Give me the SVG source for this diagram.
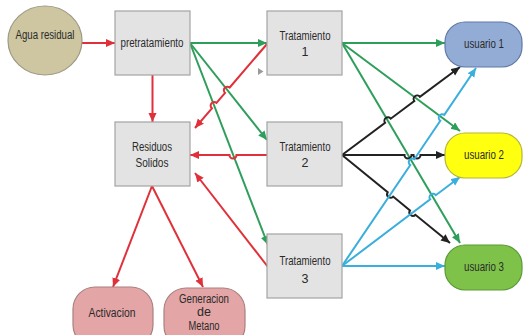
<svg xmlns="http://www.w3.org/2000/svg" width="525" height="335" viewBox="0 0 525 335">
<defs>
<style>
text{font-family:"Liberation Sans",Arial,sans-serif;font-size:12.5px;fill:#2a2a2a;text-anchor:middle}
.box{fill:#e3e3e3;stroke:#a3a3a3;stroke-width:1.2}
.ln{fill:none;stroke-width:2}
.red{stroke:#e0303a}
.grn{stroke:#2e9e5b}
.blk{stroke:#222}
.blu{stroke:#3aaedc}
</style>
<marker id="aR" markerUnits="userSpaceOnUse" markerWidth="10" markerHeight="10" refX="9" refY="4" orient="auto"><path d="M0,0 L9,4 L0,8 Z" fill="#e0303a"/></marker>
<marker id="aG" markerUnits="userSpaceOnUse" markerWidth="10" markerHeight="10" refX="9" refY="4" orient="auto"><path d="M0,0 L9,4 L0,8 Z" fill="#2e9e5b"/></marker>
<marker id="aK" markerUnits="userSpaceOnUse" markerWidth="10" markerHeight="10" refX="9" refY="4" orient="auto"><path d="M0,0 L9,4 L0,8 Z" fill="#222"/></marker>
<marker id="aB" markerUnits="userSpaceOnUse" markerWidth="10" markerHeight="10" refX="9" refY="4" orient="auto"><path d="M0,0 L9,4 L0,8 Z" fill="#3aaedc"/></marker>
</defs>
<rect width="525" height="335" fill="#fff"/>

<g id="connectors">
<path class="ln red" d="M82,43 L115,43" marker-end="url(#aR)"/>
<path class="ln red" d="M152.5,75 L152.5,122" marker-end="url(#aR)"/>
<path class="ln grn" d="M190,43 L267,43" marker-end="url(#aG)"/>
<path class="ln grn" d="M190,43 L267,140" marker-end="url(#aG)"/>
<path class="ln grn" d="M190,43 L268,245" marker-end="url(#aG)"/>
<path class="ln red" d="M267,44 L229.7,87.5 A3.5,3.5 0 0 0 225.1,92.9 L216.5,102.9 A3.5,3.5 0 0 0 211.9,108.3 L195,128" marker-end="url(#aR)"/>
<path class="ln red" d="M267,155 L236.5,155 A3.5,3.5 0 0 1 229.5,155 L190,155" marker-end="url(#aR)"/>
<path class="ln red" d="M268,267 L195,173" marker-end="url(#aR)"/>
<path class="ln red" d="M152,186 L113,287" marker-end="url(#aR)"/>
<path class="ln red" d="M152,186 L203,287" marker-end="url(#aR)"/>

<path class="ln grn" d="M342,43 L445,43" marker-end="url(#aG)"/>
<path class="ln grn" d="M342,43 L460,131" marker-end="url(#aG)"/>
<path class="ln grn" d="M342,43 L460,243" marker-end="url(#aG)"/>

<path class="ln blk" d="M342,155 L385.1,122.9 A3.5,3.5 0 0 1 390.7,118.7 L414.3,101.1 A3.5,3.5 0 0 1 419.9,96.9 L460,67" marker-end="url(#aK)"/>
<path class="ln blk" d="M342,155 L404.5,155 A3.5,3.5 0 0 0 411.5,155 L413.5,155 A3.5,3.5 0 0 0 420.5,155 L445,155" marker-end="url(#aK)"/>
<path class="ln blk" d="M342,155 L387.7,192.2 A3.5,3.5 0 0 0 393.1,196.6 L410,210.4 A3.5,3.5 0 0 0 415.4,214.8 L450,243" marker-end="url(#aK)"/>

<path class="ln blu" d="M342,266 L410.3,165 A3.5,3.5 0 0 1 414.3,159.2 L440.3,120.7 A3.5,3.5 0 0 1 444.3,114.9 L476,68" marker-end="url(#aB)"/>
<path class="ln blu" d="M342,266 L430.2,199.4 A3.5,3.5 0 0 1 435.8,195.2 L460,177" marker-end="url(#aB)"/>
<path class="ln blu" d="M342,266 L445,266" marker-end="url(#aB)"/>
</g>

<g id="agua">
<ellipse cx="45" cy="40.5" rx="37" ry="34.5" fill="#cdc6a0" stroke="#9e9a86" stroke-width="1.2"/>
<text x="45" y="39" textLength="59" lengthAdjust="spacingAndGlyphs">Agua residual</text>
</g>
<g id="pretratamiento">
<rect class="box" x="115" y="11" width="75" height="64"/>
<text x="152" y="47" textLength="63" lengthAdjust="spacingAndGlyphs">pretratamiento</text>
</g>
<g id="tratamiento1">
<rect class="box" x="267" y="11" width="75" height="64"/>
<text x="305" y="40" textLength="51" lengthAdjust="spacingAndGlyphs">Tratamiento</text>
<text x="305" y="56">1</text>
</g>
<polygon points="258,68 263.5,71.5 258,75" fill="#9a9a9a"/>
<g id="residuos">
<rect class="box" x="115" y="122" width="75" height="64"/>
<text x="152" y="151" textLength="40" lengthAdjust="spacingAndGlyphs">Residuos</text>
<text x="152" y="167" textLength="33" lengthAdjust="spacingAndGlyphs">Solidos</text>
</g>
<g id="tratamiento2">
<rect class="box" x="267" y="122" width="75" height="64"/>
<text x="305" y="151" textLength="51" lengthAdjust="spacingAndGlyphs">Tratamiento</text>
<text x="305" y="167">2</text>
</g>
<g id="tratamiento3">
<rect class="box" x="267" y="234" width="75" height="64"/>
<text x="305" y="265" textLength="51" lengthAdjust="spacingAndGlyphs">Tratamiento</text>
<text x="305" y="283">3</text>
</g>
<g id="usuario1">
<rect x="445" y="22" width="77" height="45" rx="20" fill="#93acd6" stroke="#5f7aa6" stroke-width="1.2"/>
<text x="484" y="48" textLength="40" lengthAdjust="spacingAndGlyphs">usuario 1</text>
</g>
<g id="usuario2">
<rect x="445" y="133" width="77" height="45" rx="20" fill="#ffff10" stroke="#b5b53a" stroke-width="1.2"/>
<text x="484" y="159" textLength="40" lengthAdjust="spacingAndGlyphs">usuario 2</text>
</g>
<g id="usuario3">
<rect x="445" y="245" width="77" height="45" rx="20" fill="#7fc24a" stroke="#5a9a35" stroke-width="1.2"/>
<text x="484" y="271" textLength="40" lengthAdjust="spacingAndGlyphs">usuario 3</text>
</g>
<g id="activacion">
<rect x="73" y="287" width="80" height="60" rx="22" fill="#e3a5a5" stroke="#a98080" stroke-width="1.2"/>
<text x="112" y="317" textLength="47" lengthAdjust="spacingAndGlyphs">Activacion</text>
</g>
<g id="generacion">
<rect x="164" y="288" width="81" height="60" rx="22" fill="#e3a5a5" stroke="#a98080" stroke-width="1.2"/>
<text x="204" y="303" textLength="50" lengthAdjust="spacingAndGlyphs">Generacion</text>
<text x="204" y="316">de</text>
<text x="204" y="330" textLength="31" lengthAdjust="spacingAndGlyphs">Metano</text>
</g>
</svg>
